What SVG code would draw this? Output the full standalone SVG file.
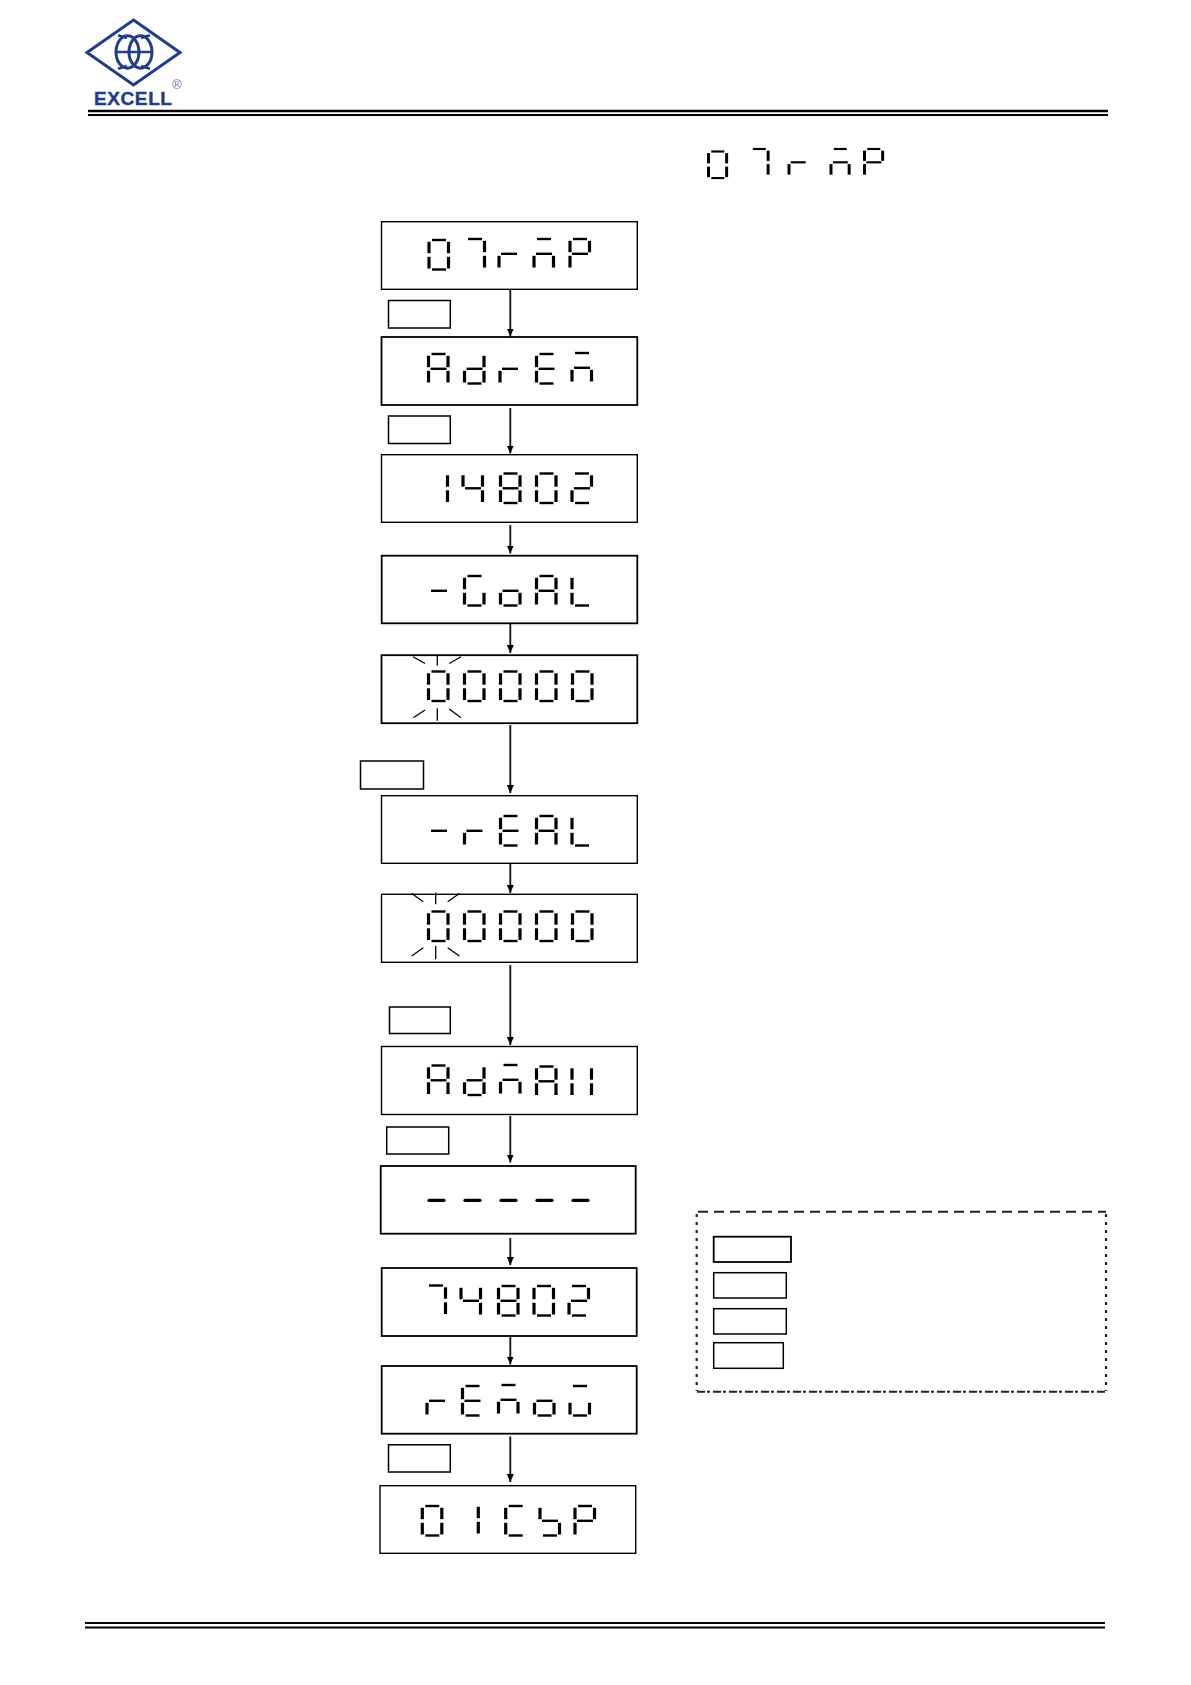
<svg xmlns="http://www.w3.org/2000/svg" width="1191" height="1685" viewBox="0 0 1191 1685">
<style>
.v{stroke:#000;stroke-width:3.2;fill:none}
.h{stroke:#000;stroke-width:2.4;fill:none}
.g3{stroke:#000;stroke-width:3.2;fill:none;stroke-linecap:round}
.box{fill:#fff;stroke:#000;stroke-width:1.4}
.boxb{fill:#fff;stroke:#000;stroke-width:1.8}
.lab{fill:#fff;stroke:#000;stroke-width:1.5}
.flash{stroke:#000;stroke-width:1.3;fill:none}
.conn{stroke:#1a1a1a;stroke-width:1.9;fill:none;marker-end:url(#arrow)}
.rule{stroke:#000;fill:none}
.logo{stroke:#1f3d8a;fill:none}
.logotext{font-family:"Liberation Sans",Arial,sans-serif;font-weight:700;font-size:19px;letter-spacing:.6px;fill:#1f3d8a;stroke:#1f3d8a;stroke-width:.4px}
.reg{font-family:"Liberation Sans",Arial,sans-serif;font-size:13px;fill:#5f74ad}
</style>
<defs>
<marker id="arrow" markerUnits="userSpaceOnUse" markerWidth="9" markerHeight="9" refX="8" refY="4.5" orient="auto"><path d="M0 1L8 4.5L0 8z" fill="#000"/></marker>
<path id="a" class="h" d="M3 0H17"/>
<path id="b" class="v" d="M19.5 1.8V13.2"/>
<path id="c" class="v" d="M19.5 16.8V28.5"/>
<path id="d" class="h" d="M3 29.5H17"/>
<path id="e" class="v" d="M0 16.8V28.5"/>
<path id="f" class="v" d="M0 1.8V13.2"/>
<path id="m" class="h" d="M2 14.8H18"/>
<g id="d0"><use href="#a"/><use href="#b"/><use href="#c"/><use href="#d"/><use href="#e"/><use href="#f"/></g>
<g id="d1"><use href="#b"/><use href="#c"/></g>
<g id="d2"><use href="#a"/><use href="#b"/><use href="#m"/><use href="#e"/><use href="#d"/></g>
<g id="d4"><use href="#f"/><use href="#m"/><use href="#b"/><use href="#c"/></g>
<g id="d7"><use href="#a"/><use href="#b"/><use href="#c"/></g>
<g id="d8"><use href="#d0"/><use href="#m"/></g>
<g id="dA"><use href="#a"/><use href="#b"/><use href="#c"/><use href="#e"/><use href="#f"/><use href="#m"/></g>
<g id="dC"><use href="#a"/><use href="#f"/><use href="#e"/><use href="#d"/></g>
<g id="dd"><use href="#b"/><use href="#c"/><use href="#d"/><use href="#e"/><use href="#m"/></g>
<g id="dE"><use href="#a"/><use href="#f"/><use href="#e"/><use href="#d"/><use href="#m"/></g>
<g id="dG"><use href="#a"/><use href="#f"/><use href="#e"/><use href="#d"/><use href="#c"/></g>
<g id="dH"><use href="#b"/><use href="#c"/><use href="#e"/><use href="#f"/></g>
<g id="dL"><use href="#f"/><use href="#e"/><use href="#d"/></g>
<g id="dM"><use href="#a"/><use href="#m"/><use href="#e"/><use href="#c"/></g>
<g id="do"><use href="#m"/><use href="#e"/><use href="#c"/><use href="#d"/></g>
<g id="dP"><use href="#a"/><use href="#b"/><use href="#f"/><use href="#m"/><use href="#e"/></g>
<g id="dr"><use href="#m"/><use href="#e"/></g>
<g id="dS"><use href="#f"/><use href="#m"/><use href="#c"/><use href="#d"/></g>
<g id="dU"><use href="#a"/><use href="#e"/><use href="#c"/><use href="#d"/></g>
<g id="dash"><use href="#m"/></g>
<path id="dashb" class="g3" d="M2 0H17"/>
</defs>
<rect width="1191" height="1685" fill="#fff"/>

<g id="logo">
<path class="logo" stroke-width="3" d="M133.5 20L180 52.5L133.5 85L87 52.5Z"/>
<ellipse class="logo" stroke-width="3" cx="127.5" cy="52" rx="11.5" ry="16.2"/>
<ellipse class="logo" stroke-width="3" cx="140.5" cy="52" rx="11.5" ry="16.2"/>
<path class="logo" stroke-width="2.6" d="M116 52H152M118 35.2L127 38M150 35.2L141 38M118 68.8L127 66M150 68.8L141 66"/>
<text class="logotext" x="94" y="105">EXCELL</text>
<text class="reg" x="172" y="89">®</text>
</g>
<g id="header-rule">
<path class="rule" stroke-width="2.5" d="M88 111H1108"/>
<path class="rule" stroke-width="2" d="M88 115H1108"/>
</g>
<g id="title-display">
<use href="#d0" transform="translate(708.5 151.5) scale(.93 .9)"/>
<use href="#d7" transform="translate(750 149) scale(.93 .9)"/>
<use href="#dr" transform="translate(789 149) scale(.93 .9)"/>
<use href="#dM" transform="translate(831 149) scale(.93 .9)"/>
<use href="#dP" transform="translate(864.5 149) scale(.93 .9)"/>
</g>

<g id="connectors">
<path class="conn" d="M510.3 289V336.5"/>
<path class="conn" d="M510.3 408V453.5"/>
<path class="conn" d="M510.3 525V553.5"/>
<path class="conn" d="M510.3 624V653"/>
<path class="conn" d="M510.3 725V793"/>
<path class="conn" d="M510.3 864V893"/>
<path class="conn" d="M510.3 965V1045"/>
<path class="conn" d="M510.3 1116V1162.5"/>
<path class="conn" d="M510.3 1238V1265"/>
<path class="conn" d="M510.3 1337V1364.5"/>
<path class="conn" d="M510.3 1436.5V1482"/>
</g>

<g id="node-1"><rect class="box" x="381.5" y="221.7" width="255.8" height="67.6"/>
<use href="#d0" x="429" y="240"/><use href="#d7" x="465" y="239"/><use href="#dr" x="499" y="239"/><use href="#dM" x="534" y="239"/><use href="#dP" x="570" y="239"/></g>
<g id="key-1"><rect class="lab" x="388.5" y="300.5" width="61.8" height="27.5"/></g>
<g id="node-2"><rect class="boxb" x="381.5" y="337" width="255.8" height="68"/>
<use href="#dA" x="428.5" y="354"/><use href="#dd" x="464.5" y="354"/><use href="#dr" x="500" y="354"/><use href="#dE" x="536.5" y="354"/><use href="#dM" x="572" y="353"/></g>
<g id="key-2"><rect class="lab" x="388.5" y="416" width="61.8" height="27.5"/></g>
<g id="node-3"><rect class="box" x="381.5" y="454.7" width="255.8" height="67.6"/>
<use href="#d1" x="428" y="473.5"/><use href="#d4" x="463" y="473.5"/><use href="#d8" x="500.5" y="473.5"/><use href="#d0" x="536.5" y="473.5"/><use href="#d2" x="572" y="473.5"/></g>
<g id="node-4"><rect class="boxb" x="381.7" y="555.7" width="255.6" height="67.6"/>
<use href="#dash" x="429" y="576"/><use href="#dG" x="464.5" y="576"/><use href="#do" x="500.5" y="576"/><use href="#dA" x="536.5" y="576"/><use href="#dL" x="572" y="576"/></g>
<g id="node-5"><rect class="boxb" x="381.5" y="655.2" width="255.8" height="68"/>
<use href="#d0" x="428.5" y="671.5"/><use href="#d0" x="464.5" y="671.5"/><use href="#d0" x="500.5" y="671.5"/><use href="#d0" x="536.5" y="671.5"/><use href="#d0" x="572.5" y="671.5"/>
<path class="flash" d="M413 656.7L425 663.5M437.3 656V665.5M449.3 663.5L461 656.7M413.3 717.7L425 710M437.3 708.3V720.7M449.3 709L461 717.7"/></g>
<g id="key-3"><rect class="lab" x="360.5" y="761" width="63" height="28"/></g>
<g id="node-6"><rect class="box" x="381.5" y="795.7" width="255.8" height="67.6"/>
<use href="#dash" x="429" y="816"/><use href="#dr" x="464.5" y="816"/><use href="#dE" x="500.5" y="816"/><use href="#dA" x="536.5" y="816"/><use href="#dL" x="572" y="816"/></g>
<g id="node-7"><rect class="box" x="381.5" y="894.3" width="255.8" height="68"/>
<use href="#d0" x="428.5" y="911.5"/><use href="#d0" x="464.5" y="911.5"/><use href="#d0" x="500.5" y="911.5"/><use href="#d0" x="536.5" y="911.5"/><use href="#d0" x="572.5" y="911.5"/>
<path class="flash" d="M411.7 893.5L423.3 901.7M435.7 892.7V904.3M447.7 901.7L459.3 893.5M411.7 956L423.3 947.7M435.7 946V959.3M447.7 947.7L459.3 956"/></g>
<g id="key-4"><rect class="lab" x="389.5" y="1007" width="60.8" height="26.5"/></g>
<g id="node-8"><rect class="box" x="381.5" y="1046.5" width="255.8" height="68"/>
<use href="#dA" x="428.5" y="1065.5"/><use href="#dd" x="464.5" y="1065.5"/><use href="#dM" x="500.5" y="1065"/><use href="#dA" x="536.5" y="1066.5"/><use href="#dH" x="572" y="1066.5"/></g>
<g id="key-5"><rect class="lab" x="386.7" y="1127" width="62" height="27"/></g>
<g id="node-9"><rect class="boxb" x="380.7" y="1166" width="255" height="67.7"/>
<use href="#dashb" x="427" y="1200.3"/><use href="#dashb" x="463" y="1200.3"/><use href="#dashb" x="499" y="1200.3"/><use href="#dashb" x="535" y="1200.3"/><use href="#dashb" x="571" y="1200.3"/></g>
<g id="node-10"><rect class="boxb" x="381.7" y="1268" width="255" height="68"/>
<use href="#d7" x="426" y="1285.5"/><use href="#d4" x="461" y="1286"/><use href="#d8" x="498.5" y="1286"/><use href="#d0" x="534" y="1286"/><use href="#d2" x="569" y="1286"/></g>
<g id="node-11"><rect class="boxb" x="381.7" y="1366" width="255" height="67.7"/>
<use href="#dr" x="427" y="1386"/><use href="#dE" x="462.5" y="1386"/><use href="#dM" x="498.5" y="1385"/><use href="#do" x="534.5" y="1386"/><use href="#dU" x="570" y="1386"/></g>
<g id="key-6"><rect class="lab" x="388.5" y="1444.8" width="61.8" height="27.2"/></g>
<g id="node-12"><rect class="box" x="380" y="1485.7" width="255.7" height="67.6"/>
<use href="#d0" x="422.3" y="1506"/><use href="#d1" x="458.8" y="1505"/><use href="#dC" x="505.7" y="1506"/><use href="#dS" x="540" y="1506"/><use href="#dP" x="575" y="1506"/></g>

<g id="legend">
<path fill="none" stroke="#222" stroke-width="2" stroke-dasharray="10 6" d="M698 1211.7H1106"/>
<path fill="none" stroke="#222" stroke-width="2" stroke-dasharray="8 2 3 3" d="M697 1391.7H1106"/>
<path fill="none" stroke="#222" stroke-width="2.2" stroke-dasharray="3 5" d="M696.7 1214V1391M1106 1214V1391"/>
<rect class="boxb" x="713.7" y="1236.7" width="77.3" height="25.3"/>
<rect class="lab" x="713.7" y="1272.7" width="72.6" height="25.3"/>
<rect class="lab" x="713.7" y="1308.7" width="72.6" height="25.3"/>
<rect class="lab" x="713.7" y="1342.7" width="69.6" height="25.6"/>
</g>
<g id="footer-rule">
<path class="rule" stroke-width="2.2" d="M85 1623H1105"/>
<path class="rule" stroke-width="2.2" d="M85 1627.5H1105"/>
</g>
</svg>
